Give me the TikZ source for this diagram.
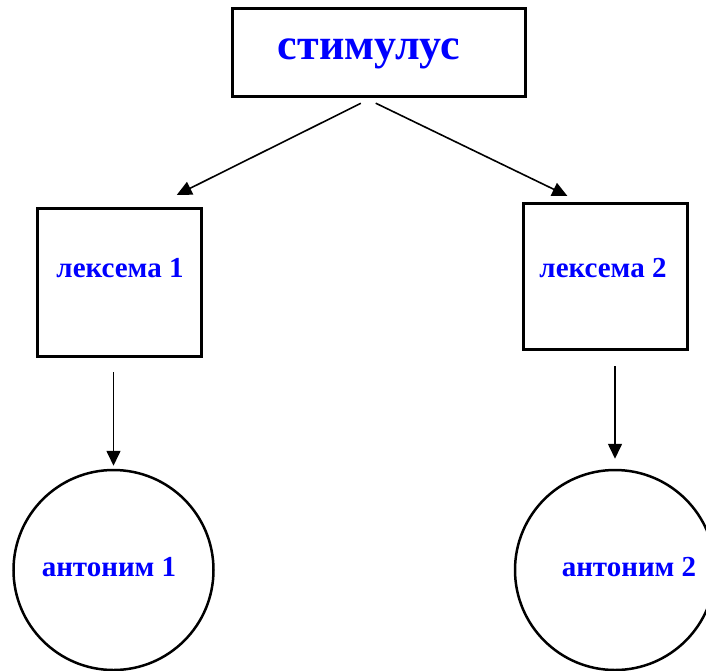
\documentclass[tikz,border=0pt]{standalone}
\usepackage{fontspec}
\setmainfont{Liberation Serif}
\usetikzlibrary{arrows.meta,positioning}

\begin{document}
\begin{tikzpicture}[x=1pt,y=-1pt,
    box/.style={draw,line width=3pt,rectangle},
    ring/.style={draw,line width=2.5pt,circle,minimum size=200pt,inner sep=0pt},
    word/.style={text=blue,font=\bfseries\fontsize{29}{29}\selectfont,anchor=base,inner sep=0pt},
    arr/.style={line width=1.6pt,-{Triangle[length=15pt,width=14pt]}}]
    \def\W{706}
    \def\H{670}
    \useasboundingbox (0,0) rectangle (\W,\H);
    \clip (0,0) rectangle (\W,\H);

    % Stimulus
    \node[box,minimum width=293pt,minimum height=88pt] (stim) at (378.5,52) {};
    \node[word,font=\bfseries\fontsize{44}{44}\selectfont] (stimtxt) at (369,59) {стимулус};

    % Lexemes
    \foreach \i/\x/\y/\h/\tx in {1/119/282/148/120,2/605.5/276/146/603} {
        \node[box,minimum width=164pt,minimum height=\h pt] (lex\i) at (\x,\y) {};
        \node[word] (lextxt\i) at (\tx,277) {лексема \i};
    }

    % Antonyms
    \foreach \i/\x/\tx in {1/113.5/109,2/615/629} {
        \node[ring] (ant\i) at (\x,570) {};
        \node[word] (anttxt\i) at (\tx,576) {антоним \i};
    }

    % Arrows
    \draw[arr,shorten <=13pt,shorten >=26pt] ([xshift=-6pt]stim.south) -- ([xshift=34.5pt]lex1.north);
    \draw[arr,shorten <=13pt,shorten >=13pt] ([xshift=-14.5pt]stim.south) -- ([xshift=-26.5pt]lex2.north);
    \draw[arr,shorten <=14.5pt,shorten >=3pt] (lex1.south -| ant1.north) -- (ant1.north);
    \draw[arr,shorten <=15.5pt,shorten >=10pt] (lex2.south -| ant2.north) -- (ant2.north);
\end{tikzpicture}
\end{document}
